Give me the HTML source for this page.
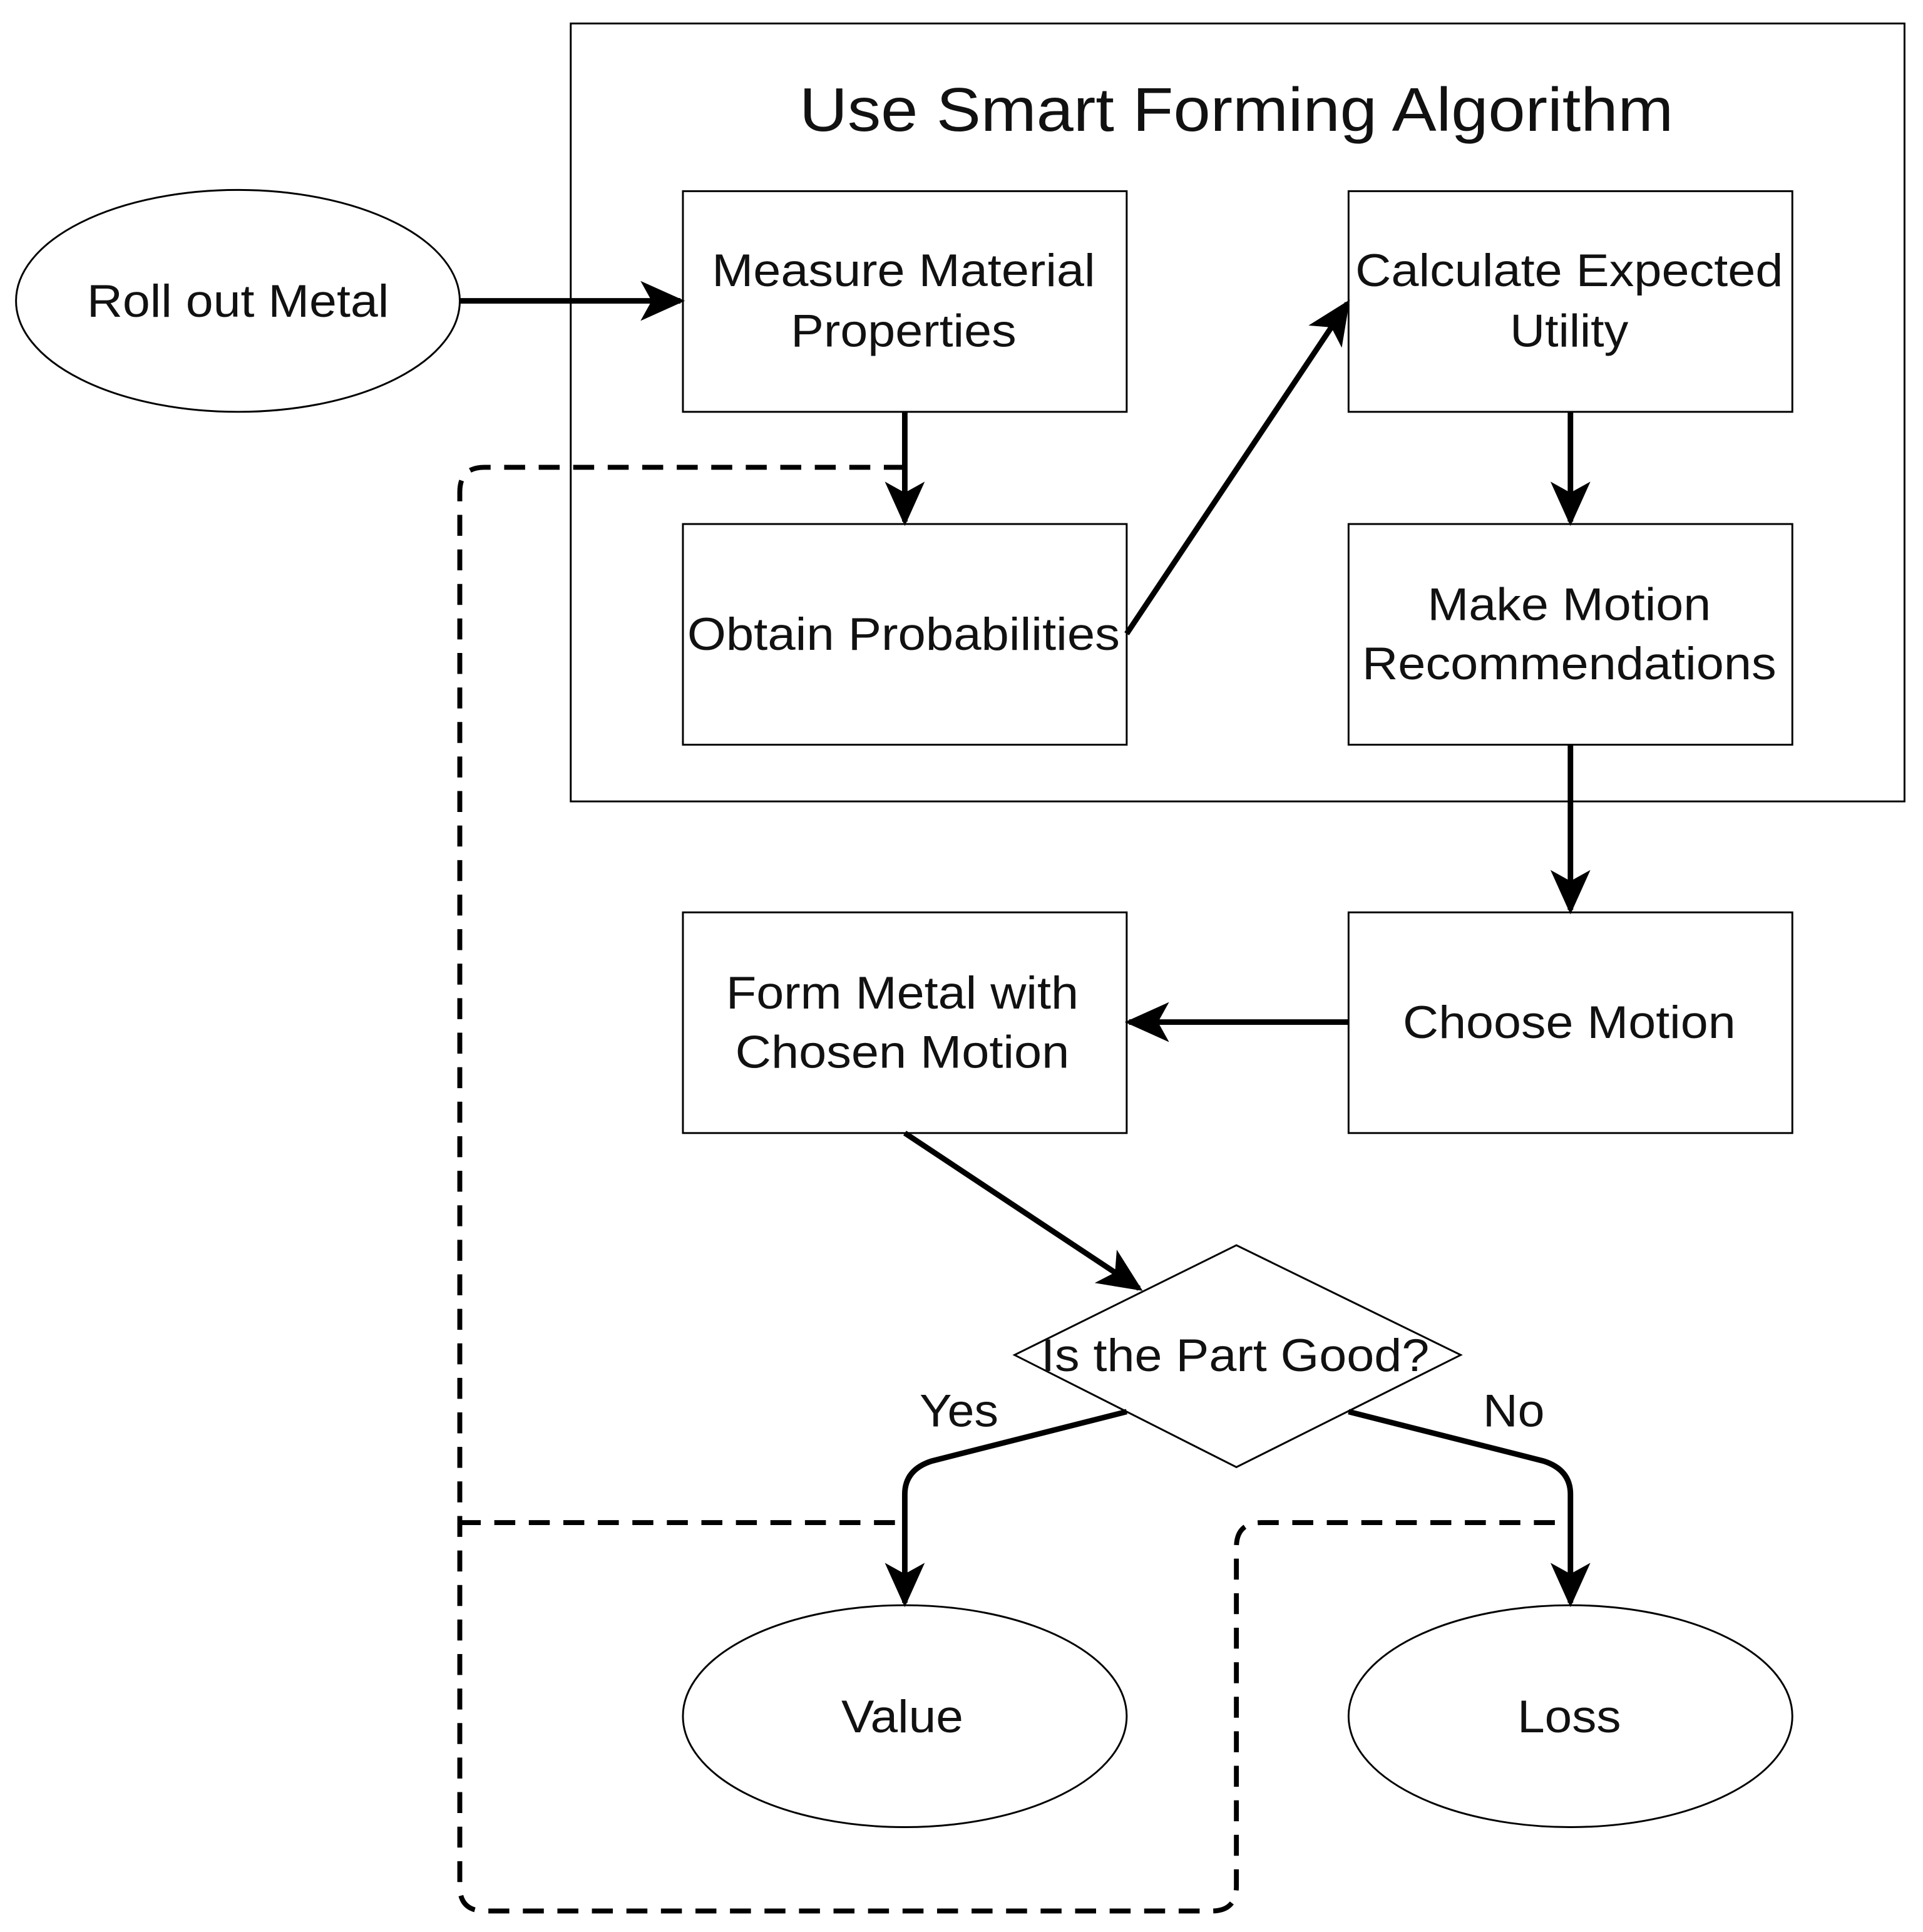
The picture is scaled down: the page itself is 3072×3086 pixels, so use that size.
<!DOCTYPE html>
<html><head><meta charset="utf-8"><style>html,body{margin:0;padding:0;background:#fff}svg{display:block}text{font-family:"Liberation Sans",Arial,sans-serif}</style></head><body>
<svg width="3072" height="3086" viewBox="0 0 1560 1567" xmlns="http://www.w3.org/2000/svg">
<defs><marker id="a" viewBox="0 0 10 10" refX="9" refY="5" markerWidth="8" markerHeight="8" orient="auto" markerUnits="strokeWidth"><path d="M0,0.5 L10,5 L0,9.5 L2.5,5 z" fill="#000"/></marker></defs>
<rect x="0" y="0" width="1560" height="1567" fill="#fff"/>
<g fill="none" stroke="#000" stroke-width="1.5">
<rect x="463" y="19" width="1082" height="631"/>
<ellipse cx="193" cy="244" rx="180" ry="90"/>
<rect x="554" y="155" width="360" height="179"/>
<rect x="1094" y="155" width="360" height="179"/>
<rect x="554" y="425" width="360" height="179"/>
<rect x="1094" y="425" width="360" height="179"/>
<rect x="1094" y="740" width="360" height="179"/>
<rect x="554" y="740" width="360" height="179"/>
<path d="M823,1099 L1003,1010 L1185,1099 L1003,1190 Z"/>
<ellipse cx="734" cy="1392" rx="180" ry="90"/>
<ellipse cx="1274" cy="1392" rx="180" ry="90"/>
</g>
<g fill="none" stroke="#000" stroke-width="4" stroke-dasharray="17 11">
<path d="M734,379 H393 Q373,379 373,399 V1530 Q373,1550 393,1550 H983 Q1003,1550 1003,1530 V1255 Q1003,1235 1023,1235 H1274"/>
<path d="M373,1235 H734"/>
</g>
<g fill="none" stroke="#000" stroke-width="4.5" marker-end="url(#a)">
<path d="M373,244 H552"/>
<path d="M734,334 V423"/>
<path d="M914,514 L1093,246"/>
<path d="M1274,334 V423"/>
<path d="M1274,604 V738"/>
<path d="M1094,829 H916"/>
<path d="M734,919 L924,1045"/>
<path d="M914,1145 L756,1185 Q734,1192 734,1212 V1300"/>
<path d="M1094,1145 L1252,1185 Q1274,1192 1274,1212 V1300"/>
</g>
<g font-size="37" text-anchor="middle" fill="#111" lengthAdjust="spacingAndGlyphs">
<text x="1003" y="106" font-size="50" textLength="709" lengthAdjust="spacingAndGlyphs">Use Smart Forming Algorithm</text>
<text x="193" y="257" textLength="245" lengthAdjust="spacingAndGlyphs">Roll out Metal</text>
<text x="733" y="232" textLength="311" lengthAdjust="spacingAndGlyphs">Measure Material</text>
<text x="733" y="281" textLength="183" lengthAdjust="spacingAndGlyphs">Properties</text>
<text x="1273" y="232" textLength="347" lengthAdjust="spacingAndGlyphs">Calculate Expected</text>
<text x="1273" y="281" textLength="96" lengthAdjust="spacingAndGlyphs">Utility</text>
<text x="733" y="527" textLength="351" lengthAdjust="spacingAndGlyphs">Obtain Probabilities</text>
<text x="1273" y="503" textLength="230" lengthAdjust="spacingAndGlyphs">Make Motion</text>
<text x="1273" y="551" textLength="336" lengthAdjust="spacingAndGlyphs">Recommendations</text>
<text x="1273" y="842" textLength="270" lengthAdjust="spacingAndGlyphs">Choose Motion</text>
<text x="732" y="818" textLength="286" lengthAdjust="spacingAndGlyphs">Form Metal with</text>
<text x="732" y="866" textLength="271" lengthAdjust="spacingAndGlyphs">Chosen Motion</text>
<text x="1002" y="1112" textLength="315" lengthAdjust="spacingAndGlyphs">Is the Part Good?</text>
<text x="778" y="1157" textLength="64" lengthAdjust="spacingAndGlyphs">Yes</text>
<text x="1228" y="1157" textLength="50" lengthAdjust="spacingAndGlyphs">No</text>
<text x="732" y="1405" textLength="99" lengthAdjust="spacingAndGlyphs">Value</text>
<text x="1273" y="1405" textLength="84" lengthAdjust="spacingAndGlyphs">Loss</text>
</g>
</svg>
</body></html>
